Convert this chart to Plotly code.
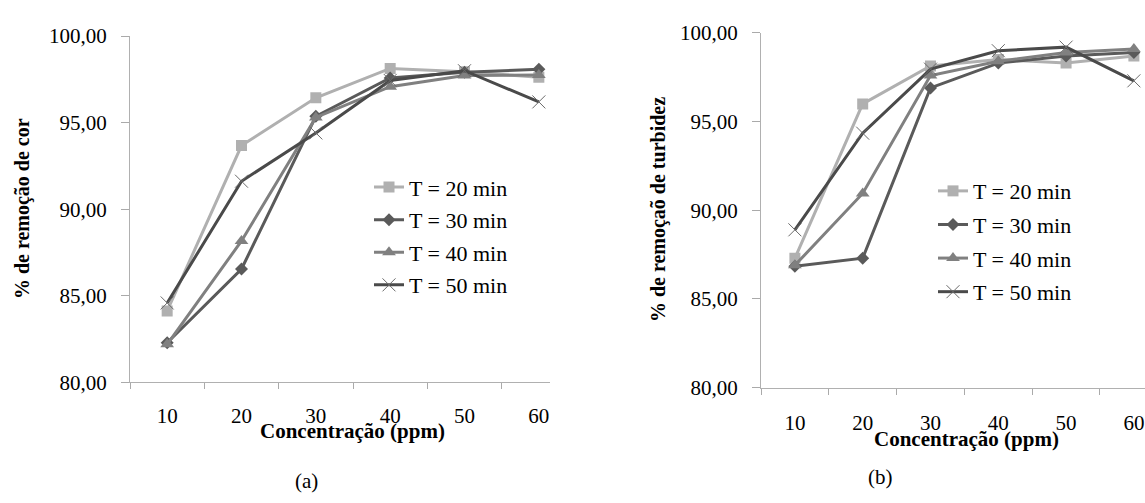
import plotly.graph_objects as go

categories = ["10", "20", "30", "40", "50", "60"]
series_names = ["T = 20 min", "T = 30 min", "T = 40 min", "T = 50 min"]

cor_t20 = [84.13, 93.68, 96.44, 98.13, 97.94, 97.63]
cor_t30 = [82.29, 86.55, 95.37, 97.58, 97.91, 98.09]
cor_t40 = [82.20, 88.17, 95.30, 97.08, 97.72, 97.76]
cor_t50 = [84.59, 91.62, 94.41, 97.44, 98.00, 96.20]

turb_t20 = [87.30, 96.00, 98.14, 98.50, 98.30, 98.70]
turb_t30 = [86.85, 87.30, 96.90, 98.30, 98.70, 98.90]
turb_t40 = [86.90, 90.95, 97.60, 98.40, 98.90, 99.10]
turb_t50 = [88.90, 94.35, 97.96, 99.00, 99.20, 97.30]

colors = ["#b0b0b0", "#5a5a5a", "#808080", "#4a4a4a"]
symbols = ["square", "diamond", "triangle-up", "x-thin"]
msizes = [11, 10, 12, 13]

FONT = "Times New Roman, Liberation Serif, DejaVu Serif, serif"

fig = go.Figure()

def add_series(values_list, xa, ya, legend):
    for i, (name, vals) in enumerate(zip(series_names, values_list)):
        marker = dict(symbol=symbols[i], size=msizes[i], color=colors[i])
        if symbols[i] == "x-thin":
            marker["line"] = dict(color="#6a6a6a", width=1)
        fig.add_trace(go.Scatter(
            x=categories, y=vals, name=name, mode="lines+markers",
            line=dict(color=colors[i], width=3), marker=marker,
            xaxis=xa, yaxis=ya, legend=legend, legendgroup=legend + str(i),
        ))

add_series([cor_t20, cor_t30, cor_t40, cor_t50], "x", "y", "legend")
add_series([turb_t20, turb_t30, turb_t40, turb_t50], "x2", "y2", "legend2")

W, H = 1145, 503

def px_x(p):
    return p / W

def px_y(p):
    return (H - p) / H

xcommon = dict(type="category", tickson="boundaries", ticks="outside", ticklen=6,
               tickcolor="#aaaaaa", showline=True, linecolor="#b0b0b0", linewidth=1,
               showgrid=False, zeroline=False,
               tickfont=dict(family=FONT, size=21, color="#000000"),
               categoryorder="array", categoryarray=categories)
ycommon = dict(range=[80, 100], tickvals=[80, 85, 90, 95, 100], tickformat=".2f",
               ticks="outside", ticklen=8, tickcolor="#aaaaaa", showline=True,
               linecolor="#b0b0b0", linewidth=1, showgrid=False, zeroline=False,
               ticklabelstandoff=10,
               tickfont=dict(family=FONT, size=21, color="#000000"))

fig.update_layout(
    width=W, height=H, margin=dict(l=0, r=0, t=0, b=0),
    paper_bgcolor="white", plot_bgcolor="white",
    font=dict(family=FONT, color="#000000"),
    separators=",.", showlegend=True,
    xaxis=dict(domain=[px_x(130), px_x(550)], range=[-0.5, 5.15], anchor="y",
               ticklabelstandoff=14, **xcommon),
    yaxis=dict(domain=[px_y(389), px_y(25.3)], anchor="x", **ycommon),
    xaxis2=dict(domain=[px_x(761), 1.0], range=[-0.5, 5.164], anchor="y2",
                ticklabelstandoff=16, **xcommon),
    yaxis2=dict(domain=[px_y(394.5), px_y(22)], anchor="x2", **ycommon),
    legend=dict(x=px_x(369), y=px_y(162), xanchor="left", yanchor="top",
                bgcolor="rgba(0,0,0,0)", tracegroupgap=1,
                font=dict(family=FONT, size=22, color="#000000")),
    legend2=dict(x=px_x(933), y=px_y(166), xanchor="left", yanchor="top",
                 bgcolor="rgba(0,0,0,0)", tracegroupgap=2,
                 font=dict(family=FONT, size=22, color="#000000")),
)

annotations = [
    dict(text="<b>% de remoção de cor</b>", x=px_x(22), y=px_y(207), textangle=-90,
         font=dict(family=FONT, size=20, color="#000000")),
    dict(text="<b>% de remoçaõ de turbidez</b>", x=px_x(658), y=px_y(208), textangle=-90,
         font=dict(family=FONT, size=20, color="#000000")),
    dict(text="<b>Concentração (ppm)</b>", x=px_x(352), y=px_y(440),
         font=dict(family=FONT, size=21, color="#000000")),
    dict(text="<b>Concentração (ppm)</b>", x=px_x(966), y=px_y(448),
         font=dict(family=FONT, size=21, color="#000000")),
    dict(text="(a)", x=px_x(306), y=px_y(492),
         font=dict(family=FONT, size=21, color="#000000")),
    dict(text="(b)", x=px_x(880), y=px_y(488),
         font=dict(family=FONT, size=21, color="#000000")),
]
for a in annotations:
    a.update(xref="paper", yref="paper", showarrow=False, xanchor="center", yanchor="middle")
fig.update_layout(annotations=annotations)

fig.write_html("out.html")
